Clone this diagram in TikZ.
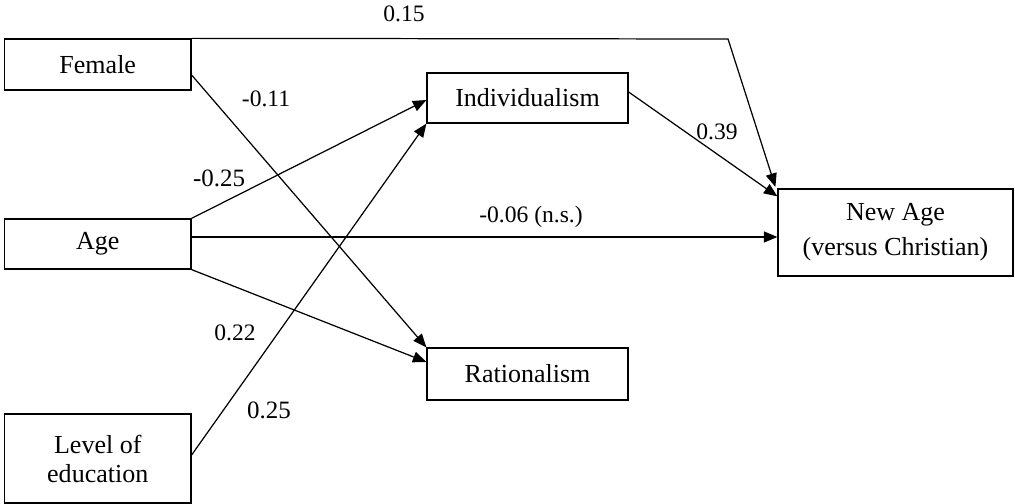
\documentclass[tikz,border=0pt]{standalone}
\usepackage{fontspec}
\setmainfont{Liberation Serif}
\usetikzlibrary{arrows.meta}

\begin{document}
\begin{tikzpicture}[
    var/.style={draw, line width=0.7pt, align=center, inner sep=0pt,
        font=\fontsize{14.8}{16.5}\selectfont},
    coef/.style={font=\fontsize{13.4}{16}\selectfont},
    path/.style={line width=0.7pt, -{Triangle[length=0.27cm, width=0.22cm]}}
]

% Fixed frame
\useasboundingbox (0,0) rectangle (20.3,10.08);

% Predictors
\node[var, minimum width=3.73cm, minimum height=1.02cm] (female) at (1.955,8.79) {Female};
\node[var, minimum width=3.73cm, minimum height=1.0cm] (age) at (1.955,5.20) {Age};
\node[var, minimum width=3.73cm, minimum height=1.78cm] (educ) at (1.955,0.91) {Level of\\education};

% Mediators
\node[var, minimum width=4.02cm, minimum height=1.0cm] (indiv) at (10.55,8.12) {Individualism};
\node[var, minimum width=4.02cm, minimum height=1.04cm] (ratio) at (10.55,2.60) {Rationalism};

% Outcome
\node[var, minimum width=4.70cm, minimum height=1.74cm] (newage) at (17.91,5.43) {New Age\\[3.5pt](versus Christian)};

% Bend of the top path
\coordinate (bend) at (14.56,9.30);

% Paths
\draw[path] (female.north east) -- (bend) -- ([xshift=-0.04cm, yshift=0.03cm]newage.north west);
\draw[path] ([yshift=-0.21cm]female.east) -- (ratio.north west);
\draw[path] (age.north east) -- ([yshift=-0.04cm]indiv.west);
\draw[path] ([yshift=0.14cm]age.east) -- ([yshift=0.14cm]age.east -| newage.west);
\draw[path] (age.south east) -- ([yshift=0.24cm]ratio.west);
\draw[path] ([yshift=0.07cm]educ.east) -- (indiv.south west);
\draw[path] ([yshift=0.12cm]indiv.east) -- ([yshift=-0.16cm]newage.north west);

% Coefficients
\node[coef] (c1) at (8.08,9.80) {0.15};
\node[coef] (c2) at (5.32,8.10) {-0.11};
\node[coef, font=\fontsize{14.2}{16}\selectfont] (c3) at (4.38,6.52) {-0.25};
\node[coef] (c4) at (10.62,5.74) {-0.06 (n.s.)};
\node[coef] (c5) at (4.70,3.42) {0.22};
\node[coef, font=\fontsize{14.2}{16}\selectfont] (c6) at (5.38,1.88) {0.25};
\node[coef] (c7) at (14.34,7.44) {0.39};

\end{tikzpicture}
\end{document}
